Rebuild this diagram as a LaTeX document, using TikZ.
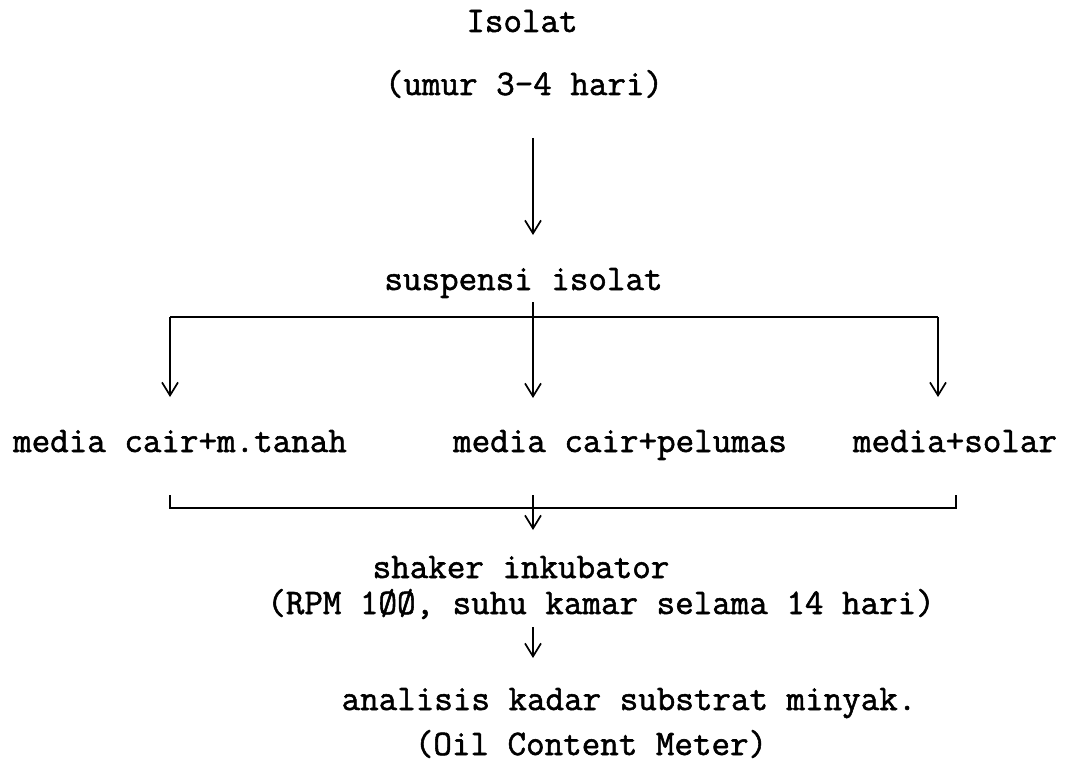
\documentclass[tikz,border=0pt]{standalone}
\usepackage{fontspec}
\usetikzlibrary{arrows.meta}
\newfontfamily\typew[FakeBold=1.5]{Latin Modern Mono}
\begin{document}
\begin{tikzpicture}[x=1pt,y=-1pt,
  txt/.style={font=\typew\fontsize{36}{42}\selectfont, inner sep=0pt, anchor=base},
  ln/.style={line width=1.7pt},
  arr/.style={ln,-{Straight Barb[length=13pt,width=16pt,line width=1.7pt]}}]
\useasboundingbox[fill=white] (0,0) rectangle (1073,781);
% texts
\node[txt] (iso)  at (522,32)  {Isolat};
\node[txt] (umur) at (524,95)  {(umur 3-4 hari)};
\node[txt] (susp) at (523.5,290) {suspensi isolat};
\node[txt] (m1)   at (180,452) {media cair+m.tanah};
\node[txt] (m2)   at (620,452) {media cair+pelumas};
\node[txt] (m3)   at (955,452) {media+solar};
\node[txt] (shk)  at (521,578) {shaker inkubator};
\node[txt] (rpm)  at (601,614) {(RPM 1ØØ, suhu kamar selama 14 hari)};
\node[txt] (ana)  at (629,710) {analisis kadar substrat minyak.};
\node[txt] (oil)  at (591,755) {(Oil Content Meter)};
% connector points
\coordinate (a1s) at (533,138);
\coordinate (a1e) at (533,235);
\coordinate (s0) at (533,302);
\coordinate (bl) at (170,317);
\coordinate (bc) at (533,317);
\coordinate (br) at (938,317);
\coordinate (t1) at (170,397);
\coordinate (t2) at (533,398);
\coordinate (t3) at (938,397);
\coordinate (ul) at (170,495);
\coordinate (ur) at (956,495);
\coordinate (dl) at (170,508);
\coordinate (dr) at (956,508);
\coordinate (dc0) at (533,495);
\coordinate (dc1) at (533,530);
\coordinate (e0) at (533,627);
\coordinate (e1) at (533,658);
% connectors
\draw[arr] (a1s) -- (a1e);
\draw[ln] (bl) -- (br);
\draw[arr] (s0) -- (t2);
\draw[arr] (bl) -- (t1);
\draw[arr] (br) -- (t3);
\draw[ln] (ul) -- (dl) -- (dr) -- (ur);
\draw[arr] (dc0) -- (dc1);
\draw[arr] (e0) -- (e1);
\end{tikzpicture}
\end{document}
